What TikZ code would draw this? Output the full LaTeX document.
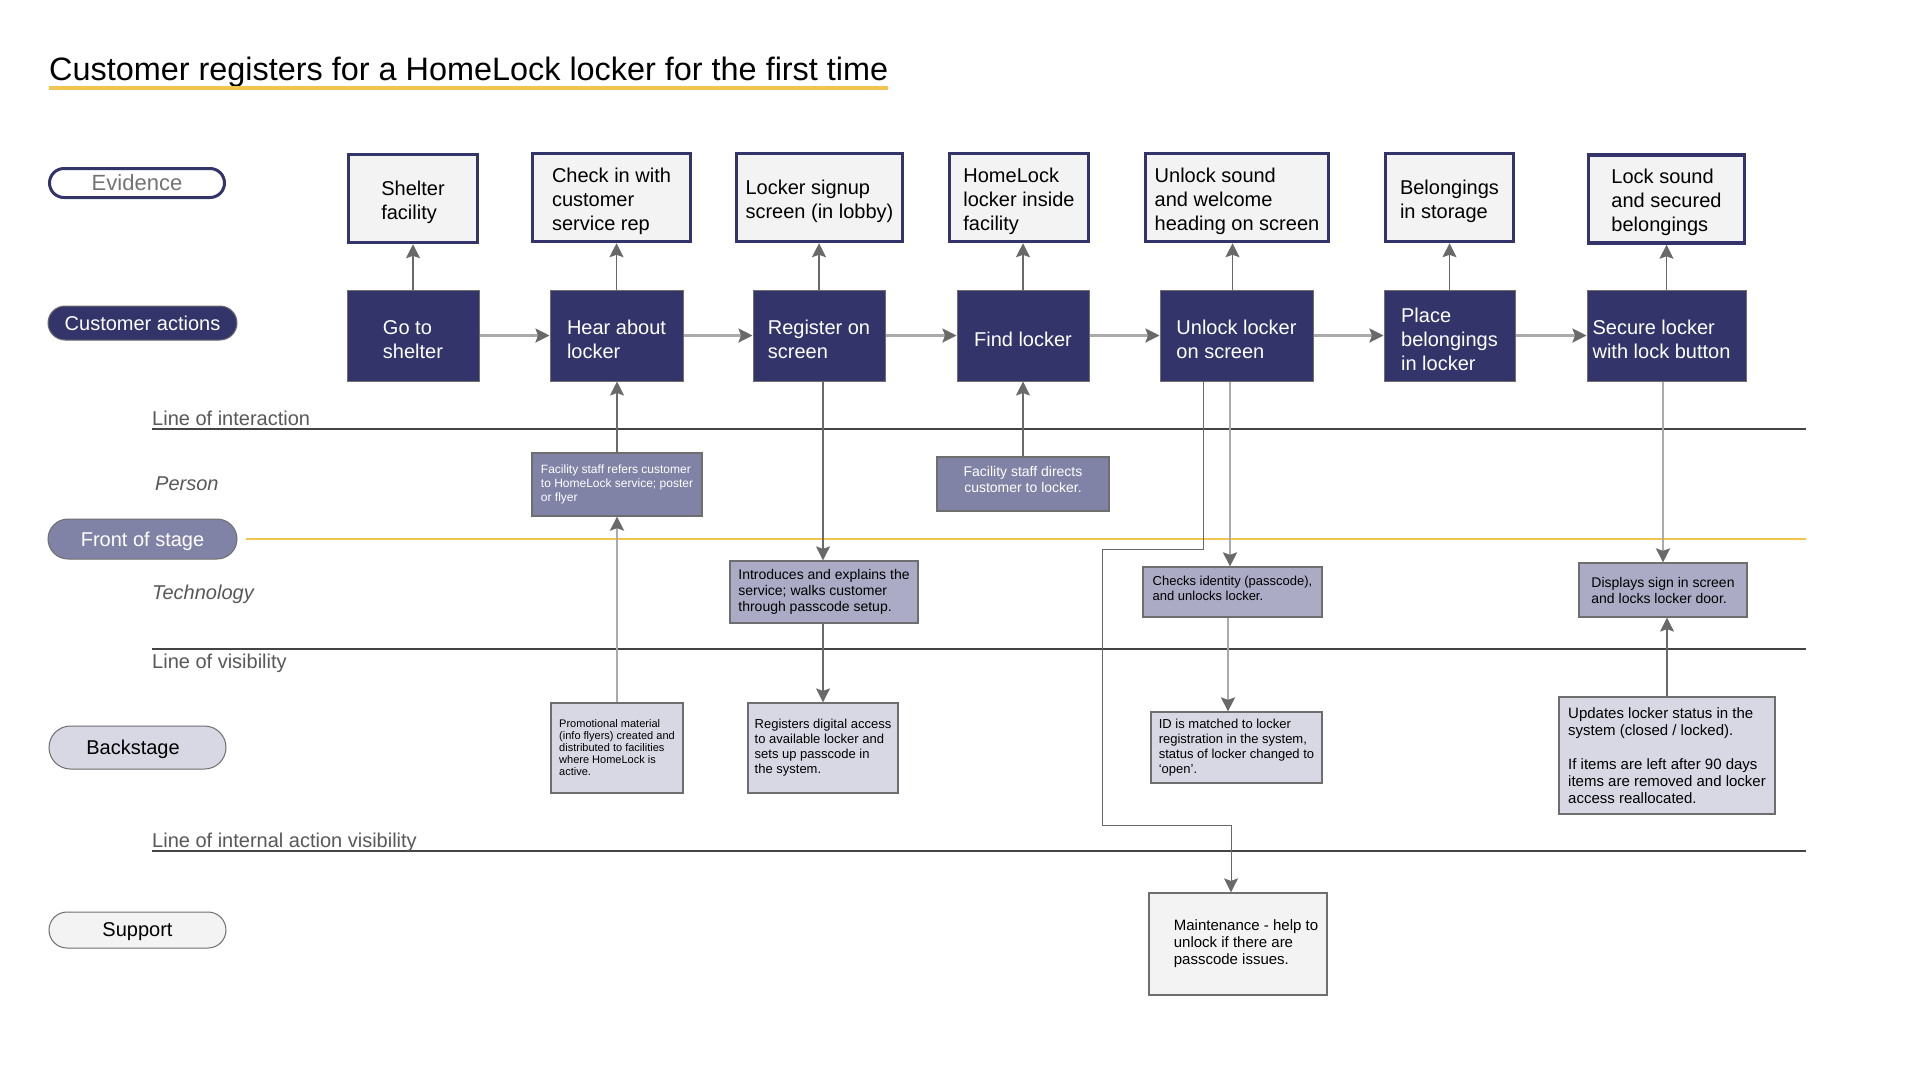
\documentclass[tikz,border=0pt]{standalone}
\usepackage{fontspec}
\setmainfont{Liberation Sans}
\usetikzlibrary{arrows.meta,shapes.misc,calc}
\definecolor{navy}{RGB}{50,52,106}
\definecolor{midlav}{RGB}{128,131,166}
\definecolor{techlav}{RGB}{171,171,198}
\definecolor{backlav}{RGB}{216,216,228}
\definecolor{evfill}{RGB}{243,243,243}
\definecolor{bordergray}{RGB}{110,110,110}
\definecolor{lightconn}{RGB}{170,170,170}
\definecolor{darkconn}{RGB}{105,105,105}
\definecolor{lanegray}{RGB}{68,68,68}
\definecolor{labelgray}{RGB}{88,88,88}
\definecolor{evtext}{RGB}{115,115,115}
\definecolor{accent}{RGB}{244,196,80}
\newcommand{\myfs}[2]{\fontsize{#1}{#2}\selectfont}
\newcommand{\tstrut}{\rule{0pt}{22pt}}
\tikzset{
  tipstyle/.tip={Stealth[length=14pt,width=14pt,inset=2.5pt,color=darkconn]},
  evbox/.style={draw=navy, line width=3.5pt, fill=evfill, text=black, font=\myfs{20}{24}, align=left, inner sep=0pt},
  actbox/.style={draw=bordergray, line width=1pt, fill=navy, text=white, font=\myfs{20}{24}, align=left, inner sep=0pt},
  personbox/.style={draw=bordergray, line width=1.2pt, fill=midlav, text=white, align=left, inner sep=0pt},
  techbox/.style={draw=bordergray, line width=1.2pt, fill=techlav, text=black, align=left, inner sep=0pt},
  backbox/.style={draw=bordergray, line width=1.2pt, fill=backlav, text=black, align=left, inner sep=0pt},
  supbox/.style={draw=bordergray, line width=1.2pt, fill=evfill, text=black, align=left, inner sep=0pt},
  pill/.style={rounded rectangle, inner sep=0pt, font=\myfs{20}{24}, text depth=0pt},
  lane/.style={draw=lanegray, line width=2.6pt},
  lanelabel/.style={text=labelgray, font=\myfs{20}{24}, inner sep=0pt},
  flowarrow/.style={draw=lightconn, line width=2.5pt, -tipstyle},
  thinarrow/.style={draw=darkconn, line width=1.2pt, -tipstyle},
  thickarrow/.style={draw=lightconn, line width=2.5pt, -tipstyle},
}
\begin{document}
\begin{tikzpicture}[x=1pt,y=-1pt]
\fill[white] (0,0) rectangle (1920,1080);
\useasboundingbox (0,0) rectangle (1920,1080);

% title
\node[anchor=base west, inner sep=0pt, font=\myfs{32.4}{38}] (title) at (49,80) {Customer registers for a HomeLock locker for the first time};
\draw[accent, line width=3.5pt] ([yshift=-8pt]title.base west) -- ([yshift=-8pt]title.base east);

% row labels
\node[pill, draw=navy, line width=3pt, fill=white, text=evtext, font=\myfs{22}{26}, minimum width=175pt, minimum height=29pt] (levidence) at (137,183) {Evidence};
\node[pill, draw=bordergray, line width=1pt, fill=navy, text=white, minimum width=189pt, minimum height=34pt] (lactions) at (142.5,323) {Customer actions};
\node[pill, draw=bordergray, line width=1pt, fill=midlav, text=white, minimum width=189pt, minimum height=40pt] (lfront) at (142.5,539) {Front of stage};
\node[pill, draw=bordergray, line width=1pt, fill=backlav, text=black, minimum width=177pt, minimum height=43pt] (lback) at (137.5,747.5) {Backstage\hspace*{9pt}};
\node[pill, draw=bordergray, line width=1pt, fill=evfill, text=black, minimum width=177pt, minimum height=36pt] (lsupport) at (137.5,930) {Support};

% lanes
\draw[lane] (152,429) -- (1806,429);
\node[lanelabel, anchor=base west] (linter) at (152,425) {Line of interaction};
\node[lanelabel, anchor=west, font=\myfs{20}{24}\itshape] (lperson) at (155,484) {Person};
\draw[accent, line width=1.2pt] (246,539) -- (1806,539);
\node[lanelabel, anchor=west, font=\myfs{20}{24}\itshape] (ltech) at (152,594) {Technology};
\draw[lane] (152,649) -- (1806,649);
\node[lanelabel, anchor=base west] (lvis) at (152,668) {Line of visibility};
\draw[lane] (152,851) -- (1806,851);
\node[lanelabel, anchor=base west] (linternal) at (152,847) {Line of internal action visibility};

% evidence boxes
\node[evbox, minimum width=129pt, minimum height=88pt] (e1) at (413,198.5) {\tstrut Shelter\\facility};
\node[evbox, minimum width=158pt, minimum height=88pt] (e2) at (611.5,197.5) {\tstrut Check in with\\customer\\service rep};
\node[evbox, minimum width=166pt, minimum height=88pt] (e3) at (819.5,197.5) {\tstrut Locker signup\\screen (in lobby)};
\node[evbox, minimum width=139pt, minimum height=88pt] (e4) at (1019,197.5) {\tstrut HomeLock\\locker inside\\facility};
\node[evbox, minimum width=183pt, minimum height=88pt] (e5) at (1237,197.5) {\tstrut Unlock sound\\and welcome\\heading on screen};
\node[evbox, minimum width=128pt, minimum height=88pt] (e6) at (1449.5,197.5) {\tstrut Belongings\\in storage};
\node[evbox, minimum width=156pt, minimum height=88pt] (e7) at (1666.5,199) {\tstrut Lock sound\\and secured\\belongings};

% customer actions
\node[actbox, minimum width=132pt, minimum height=91pt] (a1) at (413,335.5) {\tstrut Go to\\shelter};
\node[actbox, minimum width=133pt, minimum height=91pt] (a2) at (616.5,335.5) {\tstrut Hear about\\locker};
\node[actbox, minimum width=132pt, minimum height=91pt] (a3) at (819,335.5) {\tstrut Register on\\screen};
\node[actbox, minimum width=132pt, minimum height=91pt] (a4) at (1023,335.5) {\tstrut Find locker};
\node[actbox, minimum width=153pt, minimum height=91pt] (a5) at (1236.5,335.5) {\tstrut Unlock locker\\on screen};
\node[actbox, minimum width=131pt, minimum height=91pt] (a6) at (1449.5,335.5) {\tstrut Place\\belongings\\in locker};
\node[actbox, minimum width=159pt, minimum height=91pt] (a7) at (1666.5,335.5) {\tstrut Secure locker\\with lock button\hspace*{10pt}};

% front of stage: person
\node[personbox, font=\myfs{12}{14}, minimum width=170pt, minimum height=63pt] (f1) at (617,484.5) {Facility staff refers customer\\to HomeLock service; poster\\or flyer};
\node[personbox, font=\myfs{14}{16}, align=center, minimum width=172pt, minimum height=54pt, execute at end node={\rule[-9pt]{0pt}{9pt}}] (f2) at (1023,484) {Facility staff directs\\customer to locker.};

% front of stage: technology
\node[techbox, font=\myfs{14}{16}, minimum width=188pt, minimum height=62pt] (t1) at (824,592) {Introduces and explains the\\service; walks customer\\through passcode setup.};
\node[techbox, font=\myfs{13}{15}, minimum width=179pt, minimum height=50pt, execute at end node={\rule[-7pt]{0pt}{7pt}}] (t2) at (1232.5,592) {Checks identity (passcode),\\and unlocks locker.};
\node[techbox, font=\myfs{14}{16}, minimum width=168pt, minimum height=54pt] (t3) at (1663,590) {Displays sign in screen\\and locks locker door.};

% backstage
\node[backbox, font=\myfs{11}{12}, minimum width=132pt, minimum height=90pt] (b1) at (617,748) {Promotional material\\(info flyers) created and\\distributed to facilities\\where HomeLock is\\active.};
\node[backbox, font=\myfs{13}{15}, minimum width=150pt, minimum height=90pt] (b2) at (823,748) {Registers digital access\\to available locker and\\sets up passcode in\\the system.};
\node[backbox, font=\myfs{13}{15}, minimum width=171pt, minimum height=71pt] (b3) at (1236.5,747.5) {ID is matched to locker\\registration in the system,\\status of locker changed to\\‘open’.};
\node[backbox, font=\myfs{15}{17}, minimum width=216pt, minimum height=117pt] (b4) at (1667,755.5) {Updates locker status in the\\system (closed / locked).\\[17pt]If items are left after 90 days\\items are removed and locker\\access reallocated.};

% support
\node[supbox, font=\myfs{15}{17}, minimum width=178pt, minimum height=102pt] (s1) at (1238,944) {\hspace*{16pt}Maintenance - help to\\\hspace*{16pt}unlock if there are\\\hspace*{16pt}passcode issues.};

% flow arrows
\draw[flowarrow] (a1.east) -- (a2.west);
\draw[flowarrow] (a2.east) -- (a3.west);
\draw[flowarrow] (a3.east) -- (a4.west);
\draw[flowarrow] (a4.east) -- (a5.west);
\draw[flowarrow] (a5.east) -- (a6.west);
\draw[flowarrow] (a6.east) -- (a7.west);

% evidence arrows
\draw[thinarrow] (a1.north) -- (a1.north |- e1.south);
\draw[thinarrow] (a2.north) -- (a2.north |- e2.south);
\draw[thinarrow] (a3.north) -- (a3.north |- e3.south);
\draw[thinarrow] (a4.north) -- (a4.north |- e4.south);
\draw[thinarrow] ([xshift=-4pt]a5.north) -- ([xshift=-4pt]a5.north |- e5.south);
\draw[thinarrow] (a6.north) -- (a6.north |- e6.south);
\draw[thinarrow] (a7.north) -- (a7.north |- e7.south);

% vertical connectors
\draw[thinarrow] (f1.north) -- (f1.north |- a2.south);
\draw[thickarrow] (b1.north) -- (b1.north |- f1.south);
\draw[thinarrow] ([xshift=-1pt]t1.north |- a3.south) -- ([xshift=-1pt]t1.north);
\draw[thinarrow] ([xshift=-1pt]t1.south) -- ([xshift=-1pt]t1.south |- b2.north);
\draw[thinarrow] (f2.north) -- (f2.north |- a4.south);
\draw[thickarrow] ([xshift=-2.5pt]t2.north |- a5.south) -- ([xshift=-2.5pt]t2.north);
\draw[thickarrow] ([xshift=-4.5pt]t2.south) -- ([xshift=-4.5pt]t2.south |- b3.north);
\draw[thickarrow] (t3.north |- a7.south) -- (t3.north);
\draw[thinarrow] (b4.north) -- (b4.north |- t3.south);

% elbow to support
\coordinate (m1) at (1102,549);
\coordinate (m2) at (1231,825);
\draw[thinarrow, line width=1pt] ([xshift=-33.5pt]a5.south) |- (m1) |- (m2) -- (m2 |- s1.north);
\end{tikzpicture}
\end{document}
